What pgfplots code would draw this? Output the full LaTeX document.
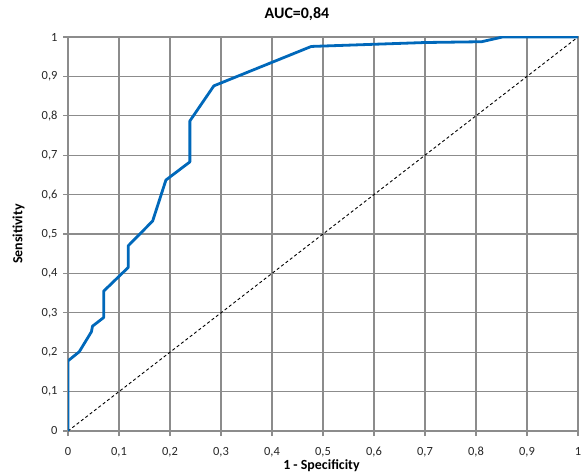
\documentclass[border=0pt]{standalone}
\usepackage{pgfplots}
\pgfplotsset{compat=1.18}
\usepackage{fontspec}
\setmainfont{Carlito}

\definecolor{rocblue}{RGB}{0,104,186}
\definecolor{gridgray}{RGB}{140,140,140}

\begin{document}
\begin{tikzpicture}
\begin{axis}[
    name=ax,
    at={(0,0)}, anchor=south west,
    scale only axis,
    width=510bp, height=394bp,
    xmin=0, xmax=1, ymin=0, ymax=1,
    xtick={0,0.1,...,1.01}, ytick={0,0.1,...,1.01},
    /pgf/number format/assume math mode=true,
    /pgf/number format/use comma,
    /pgf/number format/fixed,
    grid=major,
    grid style={gridgray, line width=1.1bp},
    axis line style={gridgray, line width=1.1bp},
    tick style={gridgray, line width=1.1bp},
    tick align=outside,
    major tick length=5bp,
    xtick pos=lower, ytick pos=left,
    ticklabel style={font=\fontsize{12.5}{14}\selectfont, text=black!85},
    xticklabel style={yshift=-7.5bp},
    yticklabel style={xshift=-2bp},
    title={AUC=0,84},
    title style={font=\fontsize{16}{18}\selectfont\bfseries, at={(axis description cs:0.449,1)}, anchor=center, yshift=17bp},
    xlabel={1 - Specificity},
    xlabel style={font=\fontsize{14}{16}\selectfont\bfseries, at={(axis description cs:0.497,0)}, anchor=base, yshift=-38.5bp},
    ylabel={Sensitivity},
    ylabel style={font=\fontsize{14}{16}\selectfont\bfseries, at={(axis description cs:-0.097,0.5)}, anchor=center},
]
% Diagonal reference
\addplot[black, line width=0.9bp, dash pattern=on 3bp off 2.5bp] coordinates {(0,0) (1,1)};

% ROC curve
\addplot[rocblue, line width=2.8bp, line join=round] coordinates {
    (0,0)
    (0,0.178)
    (0.022,0.201)
    (0.046,0.252)
    (0.048,0.266)
    (0.070,0.288)
    (0.070,0.355)
    (0.118,0.415)
    (0.118,0.470)
    (0.166,0.533)
    (0.192,0.637)
    (0.239,0.683)
    (0.239,0.787)
    (0.286,0.876)
    (0.477,0.976)
    (0.70,0.986)
    (0.811,0.988)
    (0.852,1)
    (1,1)
};
\end{axis}
\pgfresetboundingbox
\path[use as bounding box] (-68bp,-43bp) rectangle (514bp,431bp);
\end{tikzpicture}
\end{document}
